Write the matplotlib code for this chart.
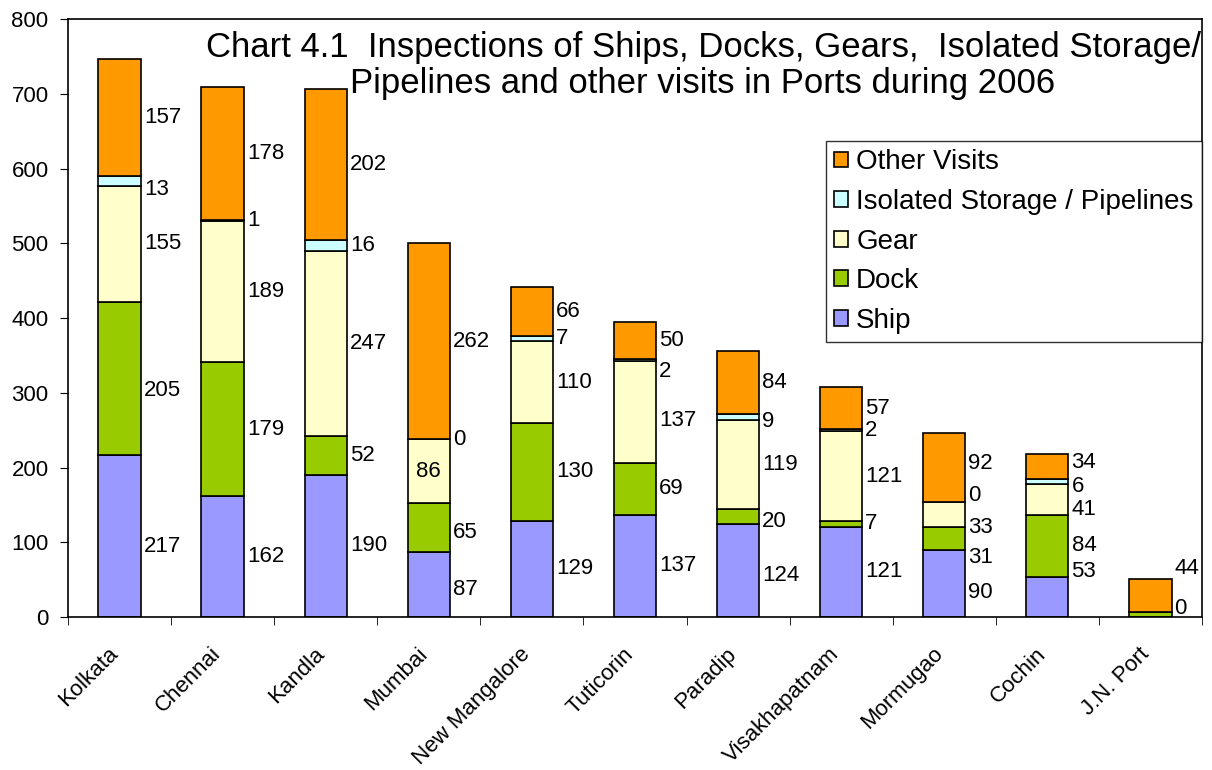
import matplotlib
matplotlib.use("Agg")
import matplotlib.pyplot as plt
import matplotlib.transforms as mtransforms
import numpy as np

plt.rcParams['font.family'] = ['Liberation Sans', 'DejaVu Sans']

ports = ['Kolkata', 'Chennai', 'Kandla', 'Mumbai', 'New Mangalore', 'Tuticorin',
         'Paradip', 'Visakhapatnam', 'Mormugao', 'Cochin', 'J.N. Port']
ship = [217, 162, 190, 87, 129, 137, 124, 121, 90, 53, 0]
dock = [205, 179, 52, 65, 130, 69, 20, 7, 31, 84, 7]
gear = [155, 189, 247, 86, 110, 137, 119, 121, 33, 41, 0]
isolated = [13, 1, 16, 0, 7, 2, 9, 2, 0, 6, 0]
other = [157, 178, 202, 262, 66, 50, 84, 57, 92, 34, 44]

series = [('Ship', ship, '#9999FF'),
          ('Dock', dock, '#99CC00'),
          ('Gear', gear, '#FFFFCC'),
          ('Isolated Storage / Pipelines', isolated, '#CCFFFF'),
          ('Other Visits', other, '#FF9900')]

# label tweaks (value-axis shift) where Excel moved labels to avoid overlap
nudge = {(0, 0): -14, (0, 1): -17, (0, 3): -12, (3, 0): -7, (3, 1): -7,
         (5, 2): -12, (5, 3): -16, (6, 1): -6, (6, 0): -6, (6, 3): -6,
         (8, 0): -12, (8, 1): -26, (8, 2): -18, (8, 3): 8, (8, 4): 6,
         (9, 0): 34, (9, 2): -14, (9, 3): -7, (9, 4): 6, (10, 4): 36, (10, 3): 5}
hidden = {(10, 0), (10, 1), (10, 2)}
inside = {(3, 2)}

fig = plt.figure(figsize=(12.12, 7.7), dpi=100)
ax = fig.add_axes([0.0561, 0.1987, 0.9356, 0.7766])

x = np.arange(len(ports))
w = 0.41
bottom = np.zeros(len(ports))
handles = []
for si, (name, vals, col) in enumerate(series):
    vals = np.array(vals, dtype=float)
    b = ax.bar(x, vals, w, bottom=bottom, color=col, edgecolor='black',
               linewidth=1.2, label=name, zorder=2)
    handles.append(b)
    for i, v in enumerate(vals):
        if (i, si) in hidden:
            continue
        yc = bottom[i] + v / 2 + nudge.get((i, si), 0)
        if (i, si) in inside:
            ax.text(x[i], yc, f'{int(v)}', ha='center', va='center', fontsize=16)
        else:
            ax.text(x[i] + w / 2 + 0.03, yc, f'{int(v)}', ha='left', va='center',
                    fontsize=16)
    bottom += vals

ax.set_xlim(-0.5, len(ports) - 0.5)
ax.set_ylim(0, 800)
ax.set_yticks(range(0, 801, 100))
ax.tick_params(axis='y', labelsize=16, direction='out', length=6, pad=8)
ax.set_xticks(x)
ax.set_xticklabels(ports, rotation=45, ha='right', va='top', rotation_mode='anchor',
                   fontsize=16)
ax.tick_params(axis='x', length=0, pad=19)
shift = mtransforms.ScaledTranslation(-0.12, 0, fig.dpi_scale_trans)
for lab in ax.get_xticklabels():
    lab.set_transform(lab.get_transform() + shift)
ax.set_xticks(np.arange(-0.5, len(ports)), minor=True)
ax.tick_params(axis='x', which='minor', length=6, direction='out')
for s in ax.spines.values():
    s.set_linewidth(1.2)

ax.text(0.56, 0.923,
        'Chart 4.1  Inspections of Ships, Docks, Gears,  Isolated Storage/\n'
        'Pipelines and other visits in Ports during 2006',
        transform=ax.transAxes, ha='center', va='center', fontsize=25,
        linespacing=1.12, zorder=5)

leg = ax.legend(handles[::-1], [s[0] for s in series][::-1], loc='upper right',
                bbox_to_anchor=(1.0, 0.796), fontsize=20, frameon=True,
                fancybox=False, edgecolor='black', handlelength=0.5,
                handleheight=0.5, handletextpad=0.3, labelspacing=0.49,
                borderpad=0.3, borderaxespad=0)
leg.get_frame().set_linewidth(1.0)

fig.savefig('out.png', dpi=100)
